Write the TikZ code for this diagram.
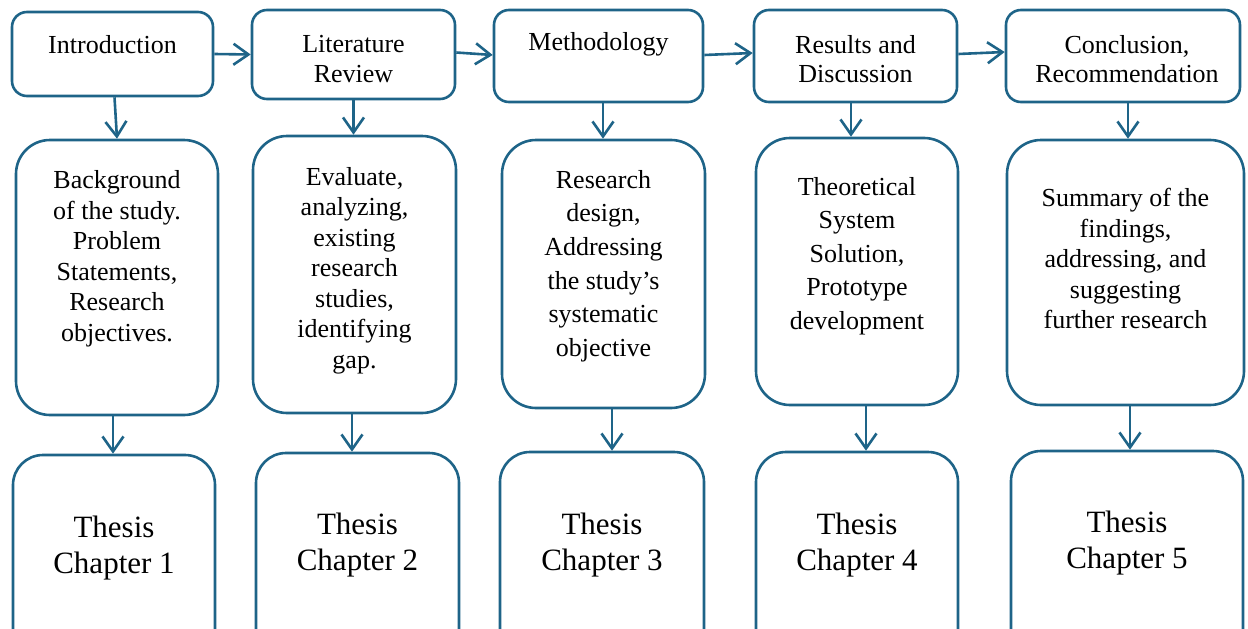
\documentclass[tikz,border=0pt]{standalone}
\usepackage{fontspec}
\setmainfont{Liberation Serif}
\usetikzlibrary{arrows.meta}
\definecolor{boxblue}{RGB}{30,100,136}
\begin{document}
\begin{tikzpicture}[x=1pt,y=-1pt,
  box/.style={draw=boxblue,line width=2.6pt,inner sep=0pt},
  topbox/.style={box,rounded corners=15pt},
  midbox/.style={box,rounded corners=34pt},
  botbox/.style={box,rounded corners=30pt},
  arr/.style={draw=boxblue,line width=2.6pt,-{Straight Barb[length=15pt,width=21pt,line width=2.6pt]}},
  toptxt/.style={align=center,inner sep=0pt,font=\fontsize{26}{29.5}\selectfont},
  midtxt/.style={align=center,inner sep=0pt,font=\fontsize{26}{30.5}\selectfont},
  midtxtw/.style={align=center,inner sep=0pt,font=\fontsize{26}{33.6}\selectfont},
  bigtxt/.style={align=center,inner sep=0pt,font=\fontsize{31}{36}\selectfont}]
\useasboundingbox (0,0) rectangle (1248,629);
\clip (0,0) rectangle (1248,629);
% top boxes
\node[topbox,minimum width=201pt,minimum height=84pt] (t1) at (112.5,54) {};
\node[topbox,minimum width=203pt,minimum height=89pt] (t2) at (353.5,54.5) {};
\node[topbox,minimum width=209pt,minimum height=92pt] (t3) at (598.5,56) {};
\node[topbox,minimum width=203pt,minimum height=92pt] (t4) at (855.5,56) {};
\node[topbox,minimum width=234pt,minimum height=92pt] (t5) at (1123,56) {};
\node[toptxt] (t1t) at (112.5,44.5) {Introduction};
\node[toptxt] (t2t) at (353.5,59) {Literature\\Review};
\node[toptxt] (t3t) at (598.5,44.5) {Methodology};
\node[toptxt] (t4t) at (855.5,59) {Results and\\Discussion};
\node[toptxt] (t5t) at (1127,59) {Conclusion,\\Recommendation};
% middle boxes
\node[midbox,minimum width=202pt,minimum height=275pt] (m1) at (117,277.5) {};
\node[midbox,minimum width=203pt,minimum height=277pt] (m2) at (354.5,274.5) {};
\node[midbox,minimum width=203pt,minimum height=268pt] (m3) at (603.5,274) {};
\node[midbox,minimum width=202pt,minimum height=267pt] (m4) at (857,271.5) {};
\node[midbox,minimum width=237pt,minimum height=265pt] (m5) at (1125.5,272.5) {};
\node[midtxt] (m1t) at (117,258.5) {Background\\of the study.\\Problem\\Statements,\\Research\\objectives.};
\node[midtxt] (m2t) at (354.5,270.5) {Evaluate,\\analyzing,\\existing\\research\\studies,\\identifying\\gap.};
\node[midtxtw] (m3t) at (603.5,266) {Research\\design,\\Addressing\\the study’s\\systematic\\objective};
\node[midtxtw] (m4t) at (857,256) {Theoretical\\System\\Solution,\\Prototype\\development};
\node[midtxt] (m5t) at (1125.5,258.5) {Summary of the\\findings,\\addressing, and\\suggesting\\further research};
% bottom boxes
\node[botbox,minimum width=202pt,minimum height=250pt] (b1) at (114,580) {};
\node[botbox,minimum width=203pt,minimum height=250pt] (b2) at (357.5,578) {};
\node[botbox,minimum width=204pt,minimum height=250pt] (b3) at (602,577) {};
\node[botbox,minimum width=202pt,minimum height=250pt] (b4) at (857,577) {};
\node[botbox,minimum width=232pt,minimum height=250pt] (b5) at (1127,576) {};
\node[bigtxt] (b1t) at (114,548) {Thesis\\Chapter 1};
\node[bigtxt] (b2t) at (357.5,545.5) {Thesis\\Chapter 2};
\node[bigtxt] (b3t) at (602,545.5) {Thesis\\Chapter 3};
\node[bigtxt] (b4t) at (857,545.5) {Thesis\\Chapter 4};
\node[bigtxt] (b5t) at (1127,543.5) {Thesis\\Chapter 5};
% horizontal arrows
\draw[arr] (t1.east) -- (t2.west);
\draw[arr] ([yshift=2pt]t2.east) -- ([yshift=1pt]t3.west);
\draw[arr] ([yshift=1pt]t3.east) -- ([yshift=3pt]t4.west);
\draw[arr] ([yshift=2pt]t4.east) -- ([yshift=4pt]t5.west);
% top to middle
\draw[arr] ([xshift=2pt]t1.south) -- ([xshift=0pt]m1.north);
\draw[arr] ([xshift=0pt]t2.south) -- ([xshift=-1pt]m2.north);
\draw[arr] ([xshift=4.5pt]t3.south) -- ([xshift=-0.5pt]m3.north);
\draw[arr] ([xshift=-4.5pt]t4.south) -- ([xshift=-6pt]m4.north);
\draw[arr] ([xshift=5pt]t5.south) -- ([xshift=2.5pt]m5.north);
% middle to bottom
\draw[arr] ([xshift=-4pt]m1.south) -- ([xshift=-1pt]b1.north);
\draw[arr] ([xshift=-2.5pt]m2.south) -- ([xshift=-5.5pt]b2.north);
\draw[arr] ([xshift=8.5pt]m3.south) -- ([xshift=10pt]b3.north);
\draw[arr] ([xshift=9pt]m4.south) -- ([xshift=9pt]b4.north);
\draw[arr] ([xshift=4.5pt]m5.south) -- ([xshift=3pt]b5.north);
\end{tikzpicture}
\end{document}
